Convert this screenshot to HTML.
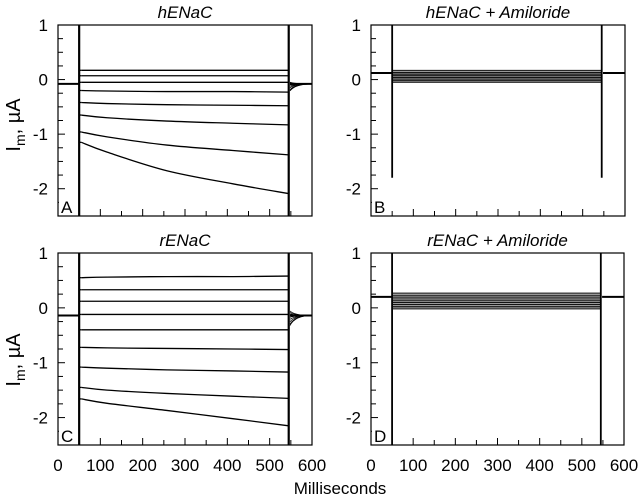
<!DOCTYPE html>
<html><head><meta charset="utf-8"><style>
body{margin:0;background:#fff;}
svg{display:block;font-family:"Liberation Sans",Arial,sans-serif;}
</style></head><body>
<svg id="fig" width="640" height="498" viewBox="0 0 640 498"></svg>
<script>
// data
const xTicks = [0,100,200,300,400,500,600];
const yTicks = [1,0,-1,-2];
const sampleTimes = [55,116,257,413,545];
const tracesA = [
 [0.17,0.17,0.17,0.17,0.17],
 [0.07,0.07,0.07,0.07,0.07],
 [-0.05,-0.05,-0.05,-0.05,-0.05],
 [-0.2,-0.21,-0.22,-0.22,-0.23],
 [-0.42,-0.44,-0.46,-0.47,-0.48],
 [-0.65,-0.7,-0.76,-0.8,-0.83],
 [-0.96,-1.05,-1.2,-1.3,-1.38],
 [-1.15,-1.33,-1.67,-1.91,-2.09]
];
const tracesC = [
 [0.55,0.56,0.57,0.57,0.58],
 [0.33,0.33,0.33,0.33,0.33],
 [0.12,0.12,0.12,0.12,0.12],
 [-0.12,-0.12,-0.12,-0.12,-0.12],
 [-0.4,-0.4,-0.4,-0.4,-0.4],
 [-0.72,-0.73,-0.74,-0.75,-0.76],
 [-1.08,-1.1,-1.13,-1.15,-1.17],
 [-1.45,-1.5,-1.56,-1.61,-1.65],
 [-1.66,-1.74,-1.87,-2.02,-2.15]
];
const bandB = [-0.05,-0.02,0.01,0.04,0.07,0.1,0.13,0.17];
const bandD = [-0.02,0.02,0.06,0.1,0.14,0.18,0.22,0.27];
const holdA = -0.08, holdB = 0.12, holdC = -0.14, holdD = 0.2;
const spikeB = [1,-1.8], spikeD = [1,-2.5];

const NS="http://www.w3.org/2000/svg";
const svg=document.getElementById('fig');
function mk(tag,attrs,parent){const e=document.createElementNS(NS,tag);for(const k in attrs)e.setAttribute(k,attrs[k]);(parent||svg).appendChild(e);return e;}

function smoothPath(pts){
  let s='M'+pts[0][0]+','+pts[0][1];
  for(let i=0;i<pts.length-1;i++){
    const p0=pts[Math.max(0,i-1)],p1=pts[i],p2=pts[i+1],p3=pts[Math.min(pts.length-1,i+2)];
    const c1x=p1[0]+(p2[0]-p0[0])/6,c1y=p1[1]+(p2[1]-p0[1])/6;
    const c2x=p2[0]-(p3[0]-p1[0])/6,c2y=p2[1]-(p3[1]-p1[1])/6;
    s+=' C'+c1x+','+c1y+' '+c2x+','+c2y+' '+p2[0]+','+p2[1];
  }
  return s;
}

function panel(p){
  const g=mk('g',{});
  
  
  const X=t=>p.x0+(t/600)*(p.x1-p.x0);
  const Y=v=>p.y0+(1-v)/3.5*(p.y1-p.y0);
  const clipId='clip'+p.letter;
  const cp=mk('clipPath',{id:clipId},g);mk('rect',{x:p.x0,y:p.y0,width:p.x1-p.x0,height:p.y1-p.y0},cp);
  const d=mk('g',{'clip-path':'url(#'+clipId+')'},g);
  
  
  mk('line',{x1:X(0),x2:X(50),y1:Y(p.hold),y2:Y(p.hold),stroke:'#000','stroke-width':2},d);
  mk('line',{x1:X(548),x2:X(600),y1:Y(p.hold),y2:Y(p.hold),stroke:'#000','stroke-width':2},d);
  if(p.traces){
    p.traces.forEach((tr,i)=>{
      const pts=sampleTimes.map((t,j)=>[X(t),Y(tr[j])]);
      const path=mk('path',{d:smoothPath(pts),fill:'none',stroke:'#000','stroke-width':1.3},d);
      
      
      mk('line',{x1:X(52),x2:X(55),y1:Y(tr[0]),y2:Y(tr[0]),stroke:'#000','stroke-width':1.3},d);
      mk('path',{d:'M'+X(548)+','+Y(p.hold+(tr[0]-p.hold)*0.12)+' Q'+X(560)+','+Y(p.hold)+' '+X(600)+','+Y(p.hold),fill:'none',stroke:'#000','stroke-width':0.8},d);
    });
    mk('line',{x1:X(50),x2:X(50),y1:p.y0,y2:p.y1,stroke:'#000','stroke-width':2.2},d);
    mk('line',{x1:X(545),x2:X(545),y1:p.y0,y2:p.y1,stroke:'#000','stroke-width':2.2},d);
  }
  if(p.band){
    mk('rect',{x:X(52),y:Y(p.band[p.band.length-1]),width:X(545)-X(52),height:Y(p.band[0])-Y(p.band[p.band.length-1]),fill:'#999'},d);
    p.band.forEach((v,i)=>{
      const l=mk('line',{x1:X(52),x2:X(545),y1:Y(v),y2:Y(v),stroke:'#000','stroke-width':0.9},d);
      
      
    });
    mk('line',{x1:X(50),x2:X(50),y1:Y(p.spike[0]),y2:Y(p.spike[1]),stroke:'#000','stroke-width':1.8},d);
    mk('line',{x1:X(545),x2:X(545),y1:Y(p.spike[0]),y2:Y(p.spike[1]),stroke:'#000','stroke-width':1.8},d);
  }
  mk('rect',{x:p.x0,y:p.y0,width:p.x1-p.x0,height:p.y1-p.y0,fill:'none',stroke:'#000','stroke-width':1.2},g);
  for(let v=1;v>=-2.5;v-=0.25){
    const major=Math.abs(v-Math.round(v))<1e-6;
    mk('line',{x1:p.x0,x2:p.x0+(major?7:5),y1:Y(v),y2:Y(v),stroke:'#000','stroke-width':1},g);
  }
  for(let t=50;t<600;t+=50){
    const major=t%100===0;
    mk('line',{x1:X(t),x2:X(t),y1:p.y1,y2:p.y1-(major?7:5),stroke:'#000','stroke-width':1},g);
  }
  yTicks.forEach(v=>{
    const tx=mk('text',{x:p.x0-10,y:Y(v)+6,'text-anchor':'end','font-size':17},g);tx.textContent=v;
    
    
  });
  if(p.xlabels) xTicks.forEach(t=>{
    const tx=mk('text',{x:X(t),y:p.y1+26,'text-anchor':'middle','font-size':17},g);tx.textContent=t;
    
    
  });
  const ti=mk('text',{x:(p.x0+p.x1)/2,y:p.y0-7,'text-anchor':'middle','font-size':17,'font-style':'italic'},g);ti.textContent=p.title;
  
  
  mk('rect',{x:p.x0+1,y:p.y1-20,width:15,height:19,fill:'#fff'},g);
  const le=mk('text',{x:p.x0+3,y:p.y1-3,'font-size':17},g);le.textContent=p.letter;
  
  
}
panel({letter:'A',title:'hENaC',x0:58,x1:312,y0:25,y1:216,hold:holdA,traces:tracesA});
panel({letter:'B',title:'hENaC + Amiloride',x0:371,x1:625,y0:25,y1:216,hold:holdB,band:bandB,spike:spikeB});
panel({letter:'C',title:'rENaC',x0:58,x1:312,y0:253,y1:445,hold:holdC,traces:tracesC,xlabels:true});
panel({letter:'D',title:'rENaC + Amiloride',x0:371,x1:624,y0:253,y1:445,hold:holdD,band:bandD,spike:spikeD,xlabels:true});

function ylab(cy){
  const t=mk('text',{transform:'translate(20,'+cy+') rotate(-90)','text-anchor':'middle','font-size':20});
  
  
  t.innerHTML='I<tspan font-size="14" dy="5">m</tspan><tspan dy="-5">, µA</tspan>';
}
ylab(125);ylab(360);
const xl=mk('text',{x:340,y:494,'text-anchor':'middle','font-size':17});
xl.textContent='Milliseconds';


</script>
</body></html>
